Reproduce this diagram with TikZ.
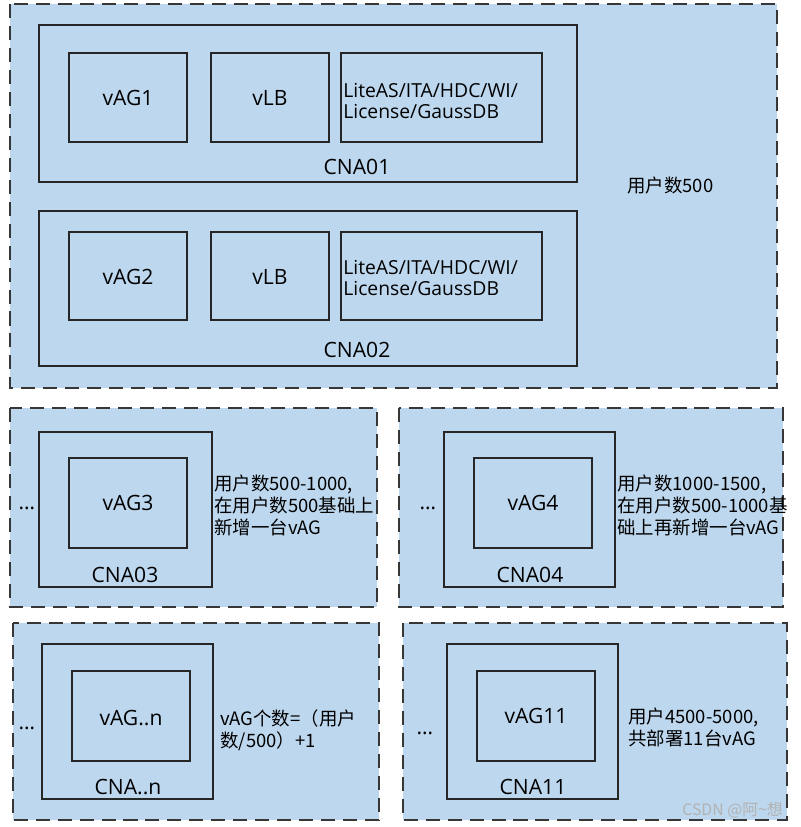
\documentclass[tikz,border=0pt]{standalone}
\usepackage{fontspec}
\setmainfont{Open Sans}
\newfontfamily\cjk{Noto Sans CJK SC}
\usepackage{xcolor}
\usepackage{tikz}
\usetikzlibrary{positioning}
\definecolor{paneblue}{RGB}{189,215,238}
\definecolor{edgegray}{RGB}{55,55,55}

\begin{document}
\begin{tikzpicture}[x=0.02cm, y=-0.02cm, font=\fontsize{12}{14}\selectfont,
  pane/.style={fill=paneblue, draw=edgegray, line width=1.1pt, dash pattern=on 8pt off 4.5pt},
  hostbox/.style={draw=black!85, line width=0.9pt},
  vmbox/.style={draw=black!85, line width=0.9pt},
  note/.style={font=\cjk\fontsize{10.5}{12.5}\selectfont, align=left, anchor=west, inner sep=0pt},
  svc/.style={font=\fontsize{11}{12.5}\selectfont, align=left, anchor=west, inner sep=0pt}]
  \useasboundingbox (0,0) rectangle (800,827);
  % dashed panes
  \draw[pane] (10,4) rectangle (777,388);
  \draw[pane] (10,408) rectangle (377,607);
  \draw[pane] (399,408) rectangle (783,607);
  \draw[pane] (13,623) rectangle (379,820);
  \draw[pane] (403,623) rectangle (787,820);
  % CNA01 and CNA02
  \draw[hostbox] (39,25) rectangle (577,182);
  \draw[vmbox] (69,53) rectangle (187,142);
  \draw[vmbox] (211,53) rectangle (329,142);
  \draw[vmbox] (341,53) rectangle (542,142);
  \node (vag1) at (128,98) {vAG1};
  \node (vlb1) at (270,98) {vLB};
  \node[svc] (svc1) at (343,101) {LiteAS/ITA/HDC/WI/\\License/GaussDB};
  \node (cna01) at (357,167) {CNA01};
  \draw[hostbox] (39,211) rectangle (577,366);
  \draw[vmbox] (69,232) rectangle (187,320);
  \draw[vmbox] (211,232) rectangle (329,320);
  \draw[vmbox] (341,232) rectangle (542,320);
  \node (vag2) at (128,277) {vAG2};
  \node (vlb2) at (270,277) {vLB};
  \node[svc] (svc2) at (343,278) {LiteAS/ITA/HDC/WI/\\License/GaussDB};
  \node (cna02) at (357,350) {CNA02};
  \node[note] (users500) at (627,186) {用户数500};
  % CNA03 and CNA04
  \draw[hostbox] (39,432) rectangle (212,587);
  \draw[vmbox] (69,458) rectangle (187,548);
  \node (vag3) at (128,503) {vAG3};
  \node (cna03) at (125,575) {CNA03};
  \node (dots3) at (27,508) {\ldots};
  \node[note] (note3) at (214,505) {用户数500-1000,\\在用户数500基础上\\新增一台vAG};
  \draw[hostbox] (444,432) rectangle (615,587);
  \draw[vmbox] (474,458) rectangle (592,548);
  \node (vag4) at (533,503) {vAG4};
  \node (cna04) at (530,575) {CNA04};
  \node (dots4) at (428,508) {\ldots};
  \node[note] (note4) at (617,505) {用户数1000-1500,\\在用户数500-1000基\\础上再新增一台vAG};
  % CNA..n and CNA11
  \draw[hostbox] (42,644) rectangle (213,799);
  \draw[vmbox] (72,671) rectangle (190,761);
  \node (vagn) at (131,718) {vAG..n};
  \node (cnan) at (128,787) {CNA..n};
  \node (dotsn) at (27,728) {\ldots};
  \node[note] (noten) at (220,730) {vAG个数=（用户\\数/500）+1};
  \draw[hostbox] (447,644) rectangle (618,799);
  \draw[vmbox] (477,671) rectangle (595,761);
  \node (vag11) at (536,716) {vAG11};
  \node (cna11) at (533,787) {CNA11};
  \node (dots11) at (425,733) {\ldots};
  \node[note] (note11) at (628,727) {用户4500-5000,\\共部署11台vAG};
  \node[font=\cjk\fontsize{9}{10}\selectfont, text=gray!60, anchor=east, inner sep=0pt] (mark) at (783,810) {CSDN @阿\string~想};
\end{tikzpicture}
\end{document}
